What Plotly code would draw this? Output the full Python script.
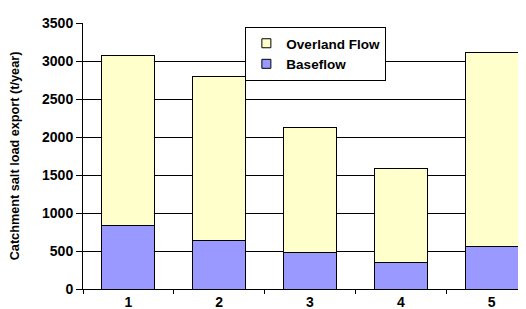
import plotly.graph_objects as go

categories = ["1", "2", "3", "4", "5"]
baseflow = [830, 635, 485, 355, 560]
overland = [2240, 2165, 1645, 1230, 2555]
y_ticks = [0, 500, 1000, 1500, 2000, 2500, 3000, 3500]

FONT = "Liberation Sans, Arial, sans-serif"
BASE_COLOR = "#9999FF"
OVER_COLOR = "#FFFFCC"

fig = go.Figure()
fig.add_trace(go.Bar(x=categories, y=baseflow, name="Baseflow", showlegend=False,
                     marker=dict(color=BASE_COLOR, line=dict(color="#000000", width=1)),
                     width=0.585))
fig.add_trace(go.Bar(x=categories, y=overland, name="Overland Flow", showlegend=False,
                     marker=dict(color=OVER_COLOR, line=dict(color="#000000", width=1)),
                     width=0.585))
# legend entries with small square swatches
fig.add_trace(go.Scatter(x=[None], y=[None], mode="markers", name="Baseflow",
                         marker=dict(symbol="square", size=9, color=BASE_COLOR,
                                     line=dict(color="black", width=1))))
fig.add_trace(go.Scatter(x=[None], y=[None], mode="markers", name="Overland Flow",
                         marker=dict(symbol="square", size=9, color=OVER_COLOR,
                                     line=dict(color="black", width=1))))

fig.update_layout(
    width=526, height=309,
    margin=dict(l=75, r=0, t=15, b=28),
    barmode="stack",
    plot_bgcolor="white", paper_bgcolor="white",
    font=dict(family=FONT, size=13, color="black", weight="bold"),
    showlegend=True,
    legend=dict(x=0.36, y=0.985, xanchor="left", yanchor="top",
                traceorder="reversed", bgcolor="white",
                bordercolor="black", borderwidth=1,
                font=dict(family=FONT, size=13.5, weight="bold"),
                itemwidth=30, tracegroupgap=0),
    xaxis=dict(type="category", range=[-0.5, 4.467],
               showline=True, linecolor="black", linewidth=1,
               ticks="outside", tickson="boundaries", ticklen=4,
               tickcolor="black", showgrid=False,
               tickfont=dict(family=FONT, size=14, weight="bold")),
    yaxis=dict(range=[0, 3500], tickvals=y_ticks,
               showline=True, linecolor="black", linewidth=1,
               ticks="outside", ticklen=6, tickcolor="black",
               showgrid=True, gridcolor="#000000", gridwidth=1,
               zeroline=False,
               tickfont=dict(family=FONT, size=14, weight="bold"),
               title=dict(text="Catchment salt load export (t/year)",
                          font=dict(family=FONT, size=12.7, weight="bold"),
                          standoff=20)),
)

fig.write_html("out.html")
